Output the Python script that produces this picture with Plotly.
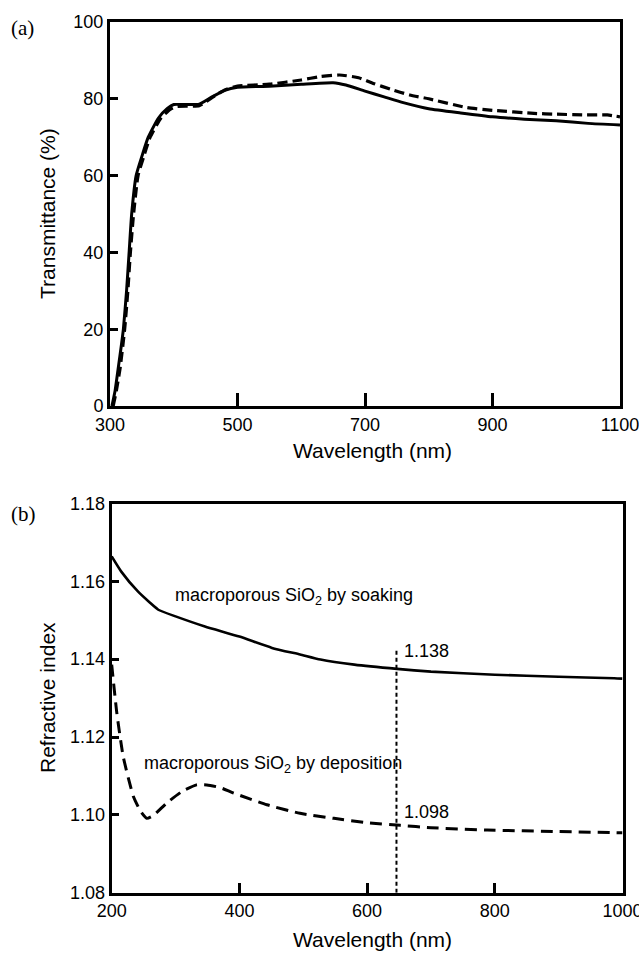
import plotly.graph_objects as go

# ---------------- Panel (a): transmittance ----------------
wl_a_solid = [303, 308, 313, 318, 321, 326, 330, 334, 341, 350, 360, 376, 390, 400, 420, 440,
              460, 480, 500, 550, 600, 650, 670, 700, 730, 760, 800, 850, 900, 950, 1000, 1050, 1100]
t_a_solid = [0, 4, 10, 16, 20, 30, 40, 50, 60, 65, 70, 75, 77.5, 78.5, 78.5, 78.6,
             80.5, 82.2, 83.0, 83.3, 83.8, 84.2, 83.6, 82.0, 80.5, 79.0, 77.4, 76.3, 75.3, 74.7, 74.3, 73.6, 73.2]

wl_a_dash = [305, 310, 316, 323, 328, 332, 337, 344, 353, 363, 380, 395, 405, 440, 460, 480, 500,
             550, 600, 630, 660, 690, 713, 740, 770, 800, 860, 900, 965, 1000, 1044, 1080, 1100]
t_a_dash = [0, 4, 10, 20, 30, 40, 50, 60, 65, 70, 75, 77.3, 78.0, 78.2, 80.3, 82.3, 83.3,
            83.8, 84.9, 85.8, 86.2, 85.5, 84.0, 82.5, 81.0, 80.0, 77.7, 77.0, 76.2, 76.0, 75.8, 75.8, 75.3]

# ---------------- Panel (b): refractive index ----------------
wl_b_soak = [200, 215, 241, 260, 273, 300, 346, 400, 451, 495, 527, 580, 647, 700, 800, 900, 987, 1000]
n_b_soak = [1.1664, 1.1625, 1.1574, 1.1545, 1.1527, 1.1510, 1.1484, 1.1458, 1.1429, 1.1412,
            1.1399, 1.1386, 1.1375, 1.1368, 1.1360, 1.1355, 1.1351, 1.1350]

wl_b_dep = [200, 208, 218, 234, 245, 255, 265, 286, 310, 333, 349, 370, 391, 443, 495, 548,
            600, 652, 700, 788, 900, 1000]
n_b_dep = [1.1386, 1.1262, 1.1150, 1.1047, 1.1010, 1.0991, 1.0998, 1.1030, 1.1060, 1.1077, 1.1077,
           1.1070, 1.1056, 1.1026, 1.1004, 1.0991, 1.0980, 1.0973, 1.0967, 1.0961, 1.0957, 1.0954]

marker_wl = [646, 646]
marker_n = [1.08, 1.1424]

xticks_a = [300, 500, 700, 900, 1100]
yticks_a = [0, 20, 40, 60, 80, 100]
xticks_b = [200, 400, 600, 800, 1000]
yticks_b = [1.08, 1.10, 1.12, 1.14, 1.16, 1.18]
yticklabels_b = ["1.08", "1.10", "1.12", "1.14", "1.16", "1.18"]

W, H = 639, 953
def px(x):
    return x / W
def py(y):
    return 1 - y / H

fig = go.Figure()
fig.add_trace(go.Scatter(x=wl_a_solid, y=t_a_solid, mode="lines",
                         line=dict(color="black", width=3, shape="spline", smoothing=0.5),
                         xaxis="x", yaxis="y", showlegend=False))
fig.add_trace(go.Scatter(x=wl_a_dash, y=t_a_dash, mode="lines",
                         line=dict(color="black", width=3.2, dash="10px,5px", shape="spline", smoothing=0.5),
                         xaxis="x", yaxis="y", showlegend=False))
fig.add_trace(go.Scatter(x=wl_b_soak, y=n_b_soak, mode="lines",
                         line=dict(color="black", width=2.6, shape="spline", smoothing=0.5),
                         xaxis="x2", yaxis="y2", showlegend=False))
fig.add_trace(go.Scatter(x=wl_b_dep, y=n_b_dep, mode="lines",
                         line=dict(color="black", width=3, dash="12px,7px", shape="spline", smoothing=0.5),
                         xaxis="x2", yaxis="y2", showlegend=False))
fig.add_trace(go.Scatter(x=marker_wl, y=marker_n, mode="lines",
                         line=dict(color="black", width=2, dash="4px,3px"),
                         xaxis="x2", yaxis="y2", showlegend=False))

tickfont = dict(family="Liberation Sans, Arial, sans-serif", size=18, color="black")
titlefont = dict(family="Liberation Sans, Arial, sans-serif", size=21, color="black")

common = dict(showline=True, linecolor="black", linewidth=3, mirror=True, ticks="inside",
              tickwidth=3, tickcolor="black", showgrid=False, zeroline=False, tickfont=tickfont,
              automargin=False, ticklabeloverflow="allow")

fig.update_layout(
    width=W, height=H, margin=dict(l=0, r=0, t=0, b=0, autoexpand=False),
    paper_bgcolor="white", plot_bgcolor="white",
    xaxis=dict(domain=[px(110), px(620)], range=[300, 1100], tickvals=xticks_a, ticklen=13,
               anchor="y", **common),
    yaxis=dict(domain=[py(406), py(22)], range=[0, 100], tickvals=yticks_a, ticklen=8,
               anchor="x", **common),
    xaxis2=dict(domain=[px(111.7), px(622.5)], range=[200, 1000], tickvals=xticks_b, ticklen=10,
                anchor="y2", **common),
    yaxis2=dict(domain=[py(892.7), py(503.5)], range=[1.08, 1.18], tickvals=yticks_b,
                ticktext=yticklabels_b, ticklen=7, anchor="x2", **common),
)

ann = []
ann.append(dict(text="Transmittance (%)", x=px(47), y=py(214), xref="paper", yref="paper",
                textangle=-90, showarrow=False, font=titlefont, xanchor="center", yanchor="middle"))
ann.append(dict(text="Wavelength (nm)", x=px(372), y=py(450), xref="paper", yref="paper",
                showarrow=False, font=titlefont, xanchor="center", yanchor="middle"))
ann.append(dict(text="Refractive index", x=px(47), y=py(698), xref="paper", yref="paper",
                textangle=-90, showarrow=False, font=titlefont, xanchor="center", yanchor="middle"))
ann.append(dict(text="Wavelength (nm)", x=px(372), y=py(939), xref="paper", yref="paper",
                showarrow=False, font=titlefont, xanchor="center", yanchor="middle"))
serif = dict(family="Liberation Serif, Times New Roman, serif", size=21, color="black")
ann.append(dict(text="(a)", x=px(22), y=py(28), xref="paper", yref="paper",
                showarrow=False, font=serif, xanchor="center", yanchor="middle"))
ann.append(dict(text="(b)", x=px(23), y=py(514), xref="paper", yref="paper",
                showarrow=False, font=serif, xanchor="center", yanchor="middle"))

labfont = dict(family="Liberation Sans, Arial, sans-serif", size=18, color="black")
ann.append(dict(text="macroporous SiO<sub>2</sub> by soaking", x=296, y=1.1561, xref="x2", yref="y2",
                showarrow=False, font=labfont, xanchor="left", yanchor="middle"))
ann.append(dict(text="macroporous SiO<sub>2</sub> by deposition", x=247, y=1.1129, xref="x2", yref="y2",
                showarrow=False, font=labfont, xanchor="left", yanchor="middle"))
ann.append(dict(text="1.138", x=655, y=1.1420, xref="x2", yref="y2",
                showarrow=False, font=labfont, xanchor="left", yanchor="middle"))
ann.append(dict(text="1.098", x=655, y=1.1008, xref="x2", yref="y2",
                showarrow=False, font=labfont, xanchor="left", yanchor="middle"))
fig.update_layout(annotations=ann)

fig.write_html("out.html", config={"displayModeBar": False},
               post_script="document.body.style.margin='0';document.body.style.overflow='hidden';")
